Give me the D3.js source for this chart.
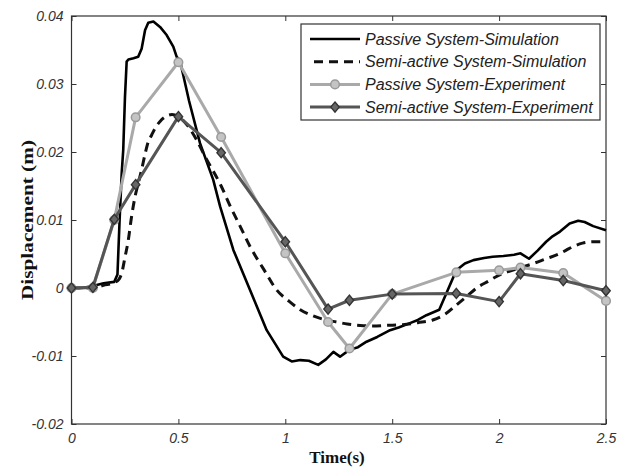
<!DOCTYPE html>
<html>
<head>
<meta charset="utf-8">
<script src="https://cdn.jsdelivr.net/npm/d3@7"></script>
<style>
  html, body { margin: 0; padding: 0; background: #fff; }
  svg { display: block; }
</style>
</head>
<body>
<svg id="chart" width="617" height="474"></svg>
<script>
// Passive system, simulation (dense trace)
const passiveSimTime = [0, 0.05, 0.10, 0.15, 0.20, 0.215, 0.225, 0.235, 0.242, 0.25, 0.258, 0.266, 0.29, 0.312, 0.328, 0.344, 0.359, 0.383, 0.414, 0.445, 0.476, 0.492, 0.507, 0.55, 0.601, 0.663, 0.695, 0.757, 0.835, 0.913, 0.99, 1.03, 1.07, 1.11, 1.154, 1.19, 1.225, 1.256, 1.30, 1.34, 1.38, 1.43, 1.49, 1.53, 1.58, 1.62, 1.66, 1.72, 1.76, 1.80, 1.84, 1.88, 1.93, 1.97, 2.02, 2.07, 2.10, 2.14, 2.18, 2.22, 2.25, 2.285, 2.33, 2.37, 2.40, 2.44, 2.5];
const passiveSimDisp = [0, 0, 0.0003, 0.0007, 0.0009, 0.002, 0.010, 0.017, 0.0203, 0.028, 0.0333, 0.0336, 0.0338, 0.034, 0.0352, 0.0379, 0.039, 0.0392, 0.0384, 0.0372, 0.0355, 0.034, 0.0335, 0.0275, 0.0213, 0.0159, 0.012, 0.0056, -0.0003, -0.0062, -0.0101, -0.0108, -0.0106, -0.0107, -0.0113, -0.0105, -0.0094, -0.0101, -0.0091, -0.0087, -0.0079, -0.0072, -0.0062, -0.0058, -0.0052, -0.0047, -0.0040, -0.0032, -0.0003, 0.0026, 0.0036, 0.0041, 0.0044, 0.0046, 0.0047, 0.0049, 0.0051, 0.0043, 0.0055, 0.0068, 0.0076, 0.0083, 0.0095, 0.0099, 0.0097, 0.0091, 0.0085];

// Semi-active system, simulation
const semiSimTime = [0, 0.1, 0.15, 0.2, 0.22, 0.235, 0.25, 0.266, 0.28, 0.297, 0.313, 0.328, 0.344, 0.359, 0.375, 0.395, 0.414, 0.44, 0.47, 0.50, 0.54, 0.585, 0.63, 0.663, 0.70, 0.74, 0.79, 0.835, 0.9, 0.96, 1.02, 1.07, 1.13, 1.19, 1.24, 1.29, 1.35, 1.41, 1.47, 1.55, 1.62, 1.69, 1.75, 1.80, 1.85, 1.895, 1.95, 2.0, 2.08, 2.16, 2.22, 2.28, 2.316, 2.347, 2.39, 2.44, 2.5];
const semiSimDisp = [0, 0, 0.0004, 0.0008, 0.0012, 0.0022, 0.0045, 0.0071, 0.0103, 0.0134, 0.0155, 0.0174, 0.0197, 0.0215, 0.0225, 0.0237, 0.0245, 0.0252, 0.0255, 0.0252, 0.0240, 0.0218, 0.0190, 0.0172, 0.0150, 0.0122, 0.0090, 0.0061, 0.0027, -0.0003, -0.0020, -0.0032, -0.0041, -0.0047, -0.0050, -0.0053, -0.0055, -0.0056, -0.0055, -0.0054, -0.0051, -0.0047, -0.0038, -0.0025, -0.0012, 0, 0.0010, 0.0019, 0.0028, 0.0036, 0.0043, 0.0050, 0.0056, 0.0061, 0.0066, 0.0068, 0.0068];

// Experimental samples
const expTime = [0, 0.1, 0.2, 0.3, 0.5, 0.7, 1.0, 1.2, 1.3, 1.5, 1.8, 2.0, 2.1, 2.3, 2.5];
const passiveExpDisp = [0, 0, 0.0100, 0.0251, 0.0332, 0.0222, 0.0051, -0.0050, -0.0089, -0.0009, 0.0023, 0.0026, 0.0030, 0.0022, -0.0019];
const semiExpDisp = [0, 0.0001, 0.0101, 0.0152, 0.0252, 0.0199, 0.0068, -0.0031, -0.0018, -0.0009, -0.0008, -0.0020, 0.0021, 0.0011, -0.0004];

const xTicks = [0, 0.5, 1, 1.5, 2, 2.5];
const xTickLabels = ["0", "0.5", "1", "1.5", "2", "2.5"];
const yTicks = [-0.02, -0.01, 0, 0.01, 0.02, 0.03, 0.04];
const yTickLabels = ["-0.02", "-0.01", "0", "0.01", "0.02", "0.03", "0.04"];

const legendLabels = [
  "Passive System-Simulation",
  "Semi-active System-Simulation",
  "Passive System-Experiment",
  "Semi-active System-Experiment"
];

const svg = d3.select("#chart");
const plotLeft = 71.5, plotRight = 606, plotTop = 16, plotBottom = 424;

const x = d3.scaleLinear().domain([0, 2.5]).range([plotLeft, plotRight]);
const y = d3.scaleLinear().domain([-0.02, 0.04]).range([plotBottom, plotTop]);

const tickFont = "'Liberation Sans', Arial, sans-serif";
const axisColor = "#333";

// Axes: ticks point inward on all four sides
function styleAxis(g) {
  g.select(".domain").remove();
  g.selectAll(".tick line").attr("stroke", axisColor).attr("stroke-width", 1);
}
svg.append("g").attr("transform", `translate(0,${plotBottom})`)
  .call(d3.axisBottom(x).tickValues(xTicks).tickSize(-5).tickFormat((d, i) => xTickLabels[i]))
  .call(styleAxis)
  .call(g => g.selectAll(".tick text")
    .attr("y", 19).attr("dy", 0).attr("font-size", 14).attr("font-style", "italic")
    .attr("font-family", tickFont).attr("fill", "#333"));
svg.append("g").attr("transform", `translate(0,${plotTop})`)
  .call(d3.axisTop(x).tickValues(xTicks).tickSize(-5).tickFormat(""))
  .call(styleAxis);
svg.append("g").attr("transform", `translate(${plotLeft},0)`)
  .call(d3.axisLeft(y).tickValues(yTicks).tickSize(-5).tickFormat((d, i) => yTickLabels[i]))
  .call(styleAxis)
  .call(g => g.selectAll(".tick text")
    .attr("x", -8).attr("font-size", 14).attr("font-style", "italic")
    .attr("font-family", tickFont).attr("fill", "#333"));
svg.append("g").attr("transform", `translate(${plotRight},0)`)
  .call(d3.axisRight(y).tickValues(yTicks).tickSize(-5).tickFormat(""))
  .call(styleAxis);

svg.append("rect")
  .attr("x", plotLeft).attr("y", plotTop)
  .attr("width", plotRight - plotLeft).attr("height", plotBottom - plotTop)
  .attr("fill", "none").attr("stroke", axisColor).attr("stroke-width", 1.2);

// Series
const zip = (ts, vs) => ts.map((t, i) => [t, vs[i]]);
const lineLinear = d3.line().x(d => x(d[0])).y(d => y(d[1]));
const lineSmooth = d3.line().x(d => x(d[0])).y(d => y(d[1])).curve(d3.curveMonotoneX);

const plot = svg.append("g");

plot.append("path").datum(zip(passiveSimTime, passiveSimDisp))
  .attr("d", lineLinear).attr("fill", "none")
  .attr("stroke", "#000").attr("stroke-width", 2.6).attr("stroke-linejoin", "round");

plot.append("path").datum(zip(semiSimTime, semiSimDisp))
  .attr("d", lineSmooth).attr("fill", "none")
  .attr("stroke", "#111").attr("stroke-width", 3).attr("stroke-dasharray", "9,6");

const passiveExpColor = "#a9a9a9";
const semiExpColor = "#555";

plot.append("path").datum(zip(expTime, passiveExpDisp))
  .attr("d", lineLinear).attr("fill", "none")
  .attr("stroke", passiveExpColor).attr("stroke-width", 3).attr("stroke-linejoin", "round");
plot.selectAll(".pmark").data(zip(expTime, passiveExpDisp)).join("circle")
  .attr("cx", d => x(d[0])).attr("cy", d => y(d[1])).attr("r", 4.3)
  .attr("fill", "#c4c4c4").attr("stroke", "#9a9a9a").attr("stroke-width", 1.5);

plot.append("path").datum(zip(expTime, semiExpDisp))
  .attr("d", lineLinear).attr("fill", "none")
  .attr("stroke", semiExpColor).attr("stroke-width", 3).attr("stroke-linejoin", "round");

// Compact diamond marker (slightly taller than wide)
const diamondShape = {
  draw(ctx, size) {
    const w = Math.sqrt(size) * 0.5, h = w * 1.2;
    ctx.moveTo(0, -h); ctx.lineTo(w, 0); ctx.lineTo(0, h); ctx.lineTo(-w, 0); ctx.closePath();
  }
};
const diamond = d3.symbol().type(diamondShape).size(72);
plot.selectAll(".smark").data(zip(expTime, semiExpDisp)).join("path")
  .attr("transform", d => `translate(${x(d[0])},${y(d[1])})`)
  .attr("d", diamond)
  .attr("fill", "#666").attr("stroke", "#333").attr("stroke-width", 1.4);

// Legend
const lg = svg.append("g");
lg.append("rect").attr("x", 301).attr("y", 24).attr("width", 299).attr("height", 96)
  .attr("fill", "#fff").attr("stroke", axisColor).attr("stroke-width", 1.2);
const rowY = i => 39 + i * 22.7;
const styles = [
  { stroke: "#000", dash: null, w: 2.6 },
  { stroke: "#111", dash: "9,6", w: 3 },
  { stroke: passiveExpColor, dash: null, w: 3 },
  { stroke: semiExpColor, dash: null, w: 3 }
];
legendLabels.forEach((label, i) => {
  const s = styles[i];
  lg.append("line").attr("x1", i === 1 ? 314 : 310).attr("x2", 360)
    .attr("y1", rowY(i)).attr("y2", rowY(i))
    .attr("stroke", s.stroke).attr("stroke-width", s.w)
    .attr("stroke-dasharray", s.dash);
  if (i === 2) {
    lg.append("circle").attr("cx", 335).attr("cy", rowY(i)).attr("r", 4.3)
      .attr("fill", "#c4c4c4").attr("stroke", "#9a9a9a").attr("stroke-width", 1.5);
  }
  if (i === 3) {
    lg.append("path").attr("transform", `translate(335,${rowY(i)})`).attr("d", diamond)
      .attr("fill", "#666").attr("stroke", "#333").attr("stroke-width", 1.4);
  }
  lg.append("text").attr("x", 365).attr("y", rowY(i)).attr("dy", "0.35em")
    .attr("font-family", tickFont).attr("font-style", "italic").attr("font-size", 16)
    .attr("fill", "#222").text(label);
});

// Axis titles
svg.append("text")
  .attr("x", 337).attr("y", 463).attr("text-anchor", "middle")
  .attr("font-family", "'Liberation Serif', 'Times New Roman', serif")
  .attr("font-weight", "bold").attr("font-size", 17).attr("fill", "#111")
  .text("Time(s)");
svg.append("text")
  .attr("transform", "translate(33,220) rotate(-90)")
  .attr("text-anchor", "middle")
  .attr("font-family", "'Liberation Serif', 'Times New Roman', serif")
  .attr("font-weight", "bold").attr("font-size", 17).attr("fill", "#111")
  .attr("textLength", 160).attr("lengthAdjust", "spacingAndGlyphs")
  .text("Displacement (m)");
</script>
</body>
</html>
